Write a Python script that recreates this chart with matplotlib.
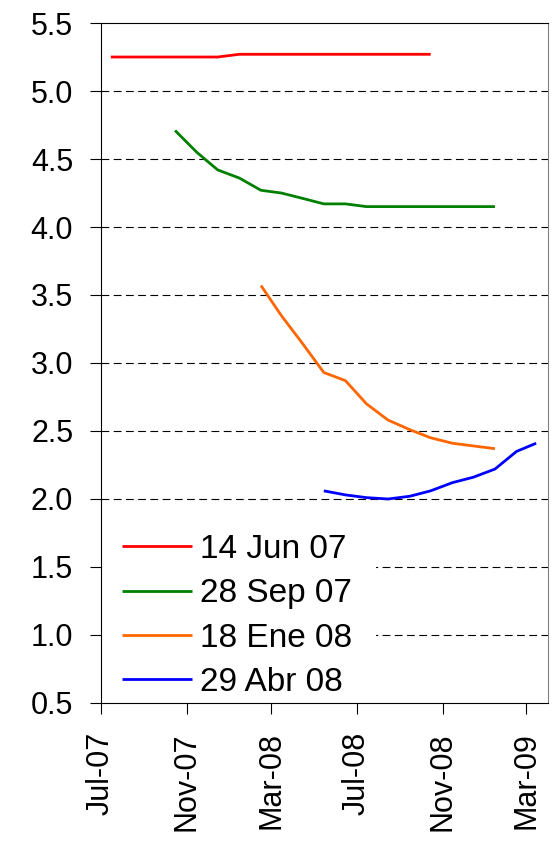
import pandas as pd
import matplotlib
matplotlib.use('Agg')
import matplotlib.pyplot as plt
import matplotlib.dates as mdates
from matplotlib.patches import Rectangle
from matplotlib.ticker import MultipleLocator, FormatStrFormatter

plt.rcParams['font.family'] = ['Liberation Sans', 'DejaVu Sans']

# ----------------------- #
# Data (monthly forecasts)
# ----------------------- #
mid = pd.Timedelta(days=14)

jun07_dates = pd.date_range('2007-07-01', '2008-10-01', freq='MS') + mid
jun07_vals = [5.25, 5.25, 5.25, 5.25, 5.25, 5.25,
              5.27, 5.27, 5.27, 5.27, 5.27, 5.27, 5.27, 5.27, 5.27, 5.27]

sep07_dates = pd.date_range('2007-10-01', '2009-01-01', freq='MS') + mid
sep07_vals = [4.71, 4.55, 4.42, 4.36, 4.27, 4.25, 4.21, 4.17,
              4.17, 4.15, 4.15, 4.15, 4.15, 4.15, 4.15, 4.15]

ene08_dates = pd.date_range('2008-02-01', '2009-01-01', freq='MS') + mid
ene08_vals = [3.57, 3.35, 3.14, 2.93, 2.87, 2.70, 2.58, 2.51, 2.45, 2.41, 2.39, 2.37]

abr08_dates = pd.date_range('2008-05-01', '2009-03-01', freq='MS') + mid
abr08_vals = [2.06, 2.03, 2.01, 2.00, 2.02, 2.06, 2.12, 2.16, 2.22, 2.35, 2.41]

labels = ['14 Jun 07', '28 Sep 07', '18 Ene 08', '29 Abr 08']
colors = ['#FF0000', '#008000', '#FF6600', '#0000FF']

# ----------------------- #
# Plot
# ----------------------- #
fig = plt.figure(figsize=(5.6, 8.43), dpi=100)
ax = fig.add_axes([0.1804, 0.1661, 0.7982, 0.8066])

series = [(jun07_dates, jun07_vals), (sep07_dates, sep07_vals),
          (ene08_dates, ene08_vals), (abr08_dates, abr08_vals)]
for (d, v), lab, c in zip(series, labels, colors):
    ax.plot(d, v, color=c, lw=2, label=lab, solid_capstyle='butt', zorder=3)

ax.set_ylim(0.5, 5.5)
ax.set_xlim(pd.Timestamp('2007-07-01'), pd.Timestamp('2009-04-01'))

ax.yaxis.set_major_locator(MultipleLocator(0.5))
ax.yaxis.set_major_formatter(FormatStrFormatter('%.1f'))
ax.xaxis.set_major_locator(mdates.MonthLocator(bymonth=[3, 7, 11]))
ax.xaxis.set_major_formatter(mdates.DateFormatter('%b-%y'))

ax.tick_params(axis='both', direction='out', length=8, width=0.8, labelsize=22)
ax.tick_params(axis='y', pad=12)
ax.tick_params(axis='x', pad=13)
plt.setp(ax.get_xticklabels(), rotation=90)

# dashed gridlines at the inner ticks only
for yv in [1.0, 1.5, 2.0, 2.5, 3.0, 3.5, 4.0, 4.5, 5.0]:
    ax.axhline(yv, color='black', lw=0.8, dashes=(7, 4), zorder=0)

for s in ['left', 'bottom', 'top']:
    ax.spines[s].set_color('black')
    ax.spines[s].set_linewidth(0.8)
ax.spines['right'].set_color('#808080')
ax.spines['right'].set_linewidth(0.8)

# white legend area (hides the gridlines behind the legend)
ax.add_patch(Rectangle((0, 0), 0.615, 0.294, transform=ax.transAxes,
                       facecolor='white', edgecolor='none', zorder=1))

ax.legend(loc='lower left', bbox_to_anchor=(0.036, 0.0), borderaxespad=0,
          fontsize=24, frameon=False, handlelength=2.1, handletextpad=0.25,
          labelspacing=0.4, borderpad=0.15)

plt.savefig('out.png', dpi=100)
